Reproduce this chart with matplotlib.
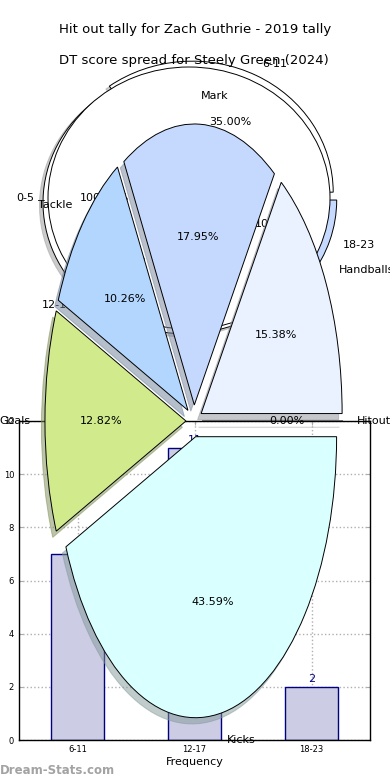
import numpy as np
import matplotlib
matplotlib.use("Agg")
import matplotlib.pyplot as plt

# bar chart: hit out tally frequency
bins = ['6-11', '12-17', '18-23']
tally = [7, 11, 2]

# background pie: hit out spread
hit_bins = ['6-11', '12-17', '18-23']
hit_counts = [7, 11, 2]
hit_all_label = ['0-5']
hit_all = [1]

# foreground pie: DT score spread
dt_stats = ['Hitout', 'Handballs', 'Mark', 'Tackle', 'Goals', 'Kicks']
dt_values = [0, 6, 7, 4, 5, 17]
dt_colors = ['#ffffff', '#eaf1ff', '#c5d9ff', '#b3d6ff', '#d0ea8c', '#d9ffff']

W, H = 390, 780
fig = plt.figure(figsize=(3.9, 7.8), dpi=100)

def px_axes(cx, cy, hr, vr):
    # axes whose (-1.25, 1.25) limits put a unit pie at pixel centre cx, cy
    w = 2.5 * hr
    h = 2.5 * vr
    return fig.add_axes([(cx - w / 2) / W, (H - cy - h / 2) / H, w / W, h / H])

shadow = {'ox': -0.018, 'oy': -0.016, 'shade': 0.4}
wprops = {'edgecolor': 'black', 'linewidth': 0.7}

# ---- bars ----
axb = fig.add_axes([19 / W, 40 / H, 351 / W, 319 / H])
x = np.arange(len(bins))
axb.bar(x, tally, width=0.45, color='#ccccE5', edgecolor='#000080', linewidth=1, zorder=2)
for xi, v in zip(x, tally):
    axb.text(xi, v + 0.1, str(v), ha='center', va='bottom', color='#000080', fontsize=8)
axb.set_xlim(-0.5, 2.5)
axb.set_ylim(0, 12)
axb.set_xticks(x)
axb.set_xticklabels(bins, fontsize=6)
axb.set_yticks(range(0, 13, 2))
axb.tick_params(axis='y', labelsize=6)
axb.tick_params(direction='in', length=3, color='#aaaaaa', right=True, top=True)
axb.grid(True, linestyle=':', color='#b0b0b0', linewidth=1)
axb.set_xlabel('Frequency', fontsize=8, labelpad=2)
axb.set_ylabel('Hitout Tally', fontsize=8)
for s in axb.spines.values():
    s.set_color('black')
    s.set_linewidth(1)

# ---- background pie ----
axc = px_axes(189, 198, 141, 131)
axc.patch.set_visible(False)
axc.pie(hit_counts, labels=hit_bins, colors=['white', 'white', '#c6d9ff'],
        explode=[0.05, 0.05, 0.05], autopct='%.2f%%', shadow=shadow, startangle=0,
        wedgeprops=wprops, textprops={'fontsize': 8})
axc.pie(hit_all, labels=hit_all_label, colors=['white'], autopct='%.2f%%', shadow=shadow,
        startangle=0, wedgeprops=wprops, textprops={'fontsize': 8})
axc.set_aspect('auto')
axc.set_xlim(-1.25, 1.25)
axc.set_ylim(-1.25, 1.25)
axc.axis('off')

# ---- foreground pie ----
axa = px_axes(194, 421, 141, 281)
axa.patch.set_visible(False)
axa.pie(dt_values, labels=dt_stats, colors=dt_colors, explode=[0.057] * 6,
        autopct='%.2f%%', shadow=shadow, startangle=0,
        wedgeprops=wprops, textprops={'fontsize': 8})
axa.set_aspect('auto')
axa.set_xlim(-1.25, 1.25)
axa.set_ylim(-1.25, 1.25)
axa.axis('off')
axa.set_title('DT score spread for Steely Green (2024)', fontsize=9.5, pad=4)

fig.text(0.5, 1 - 30 / H, 'Hit out tally for Zach Guthrie - 2019 tally',
         ha='center', va='center', fontsize=9.5)
fig.text(0.0, 1 - 770 / H, 'Dream-Stats.com', ha='left', va='center',
         fontsize=8.5, color='#a3a3a3', fontweight='bold')

fig.savefig('out.png', dpi=100)
